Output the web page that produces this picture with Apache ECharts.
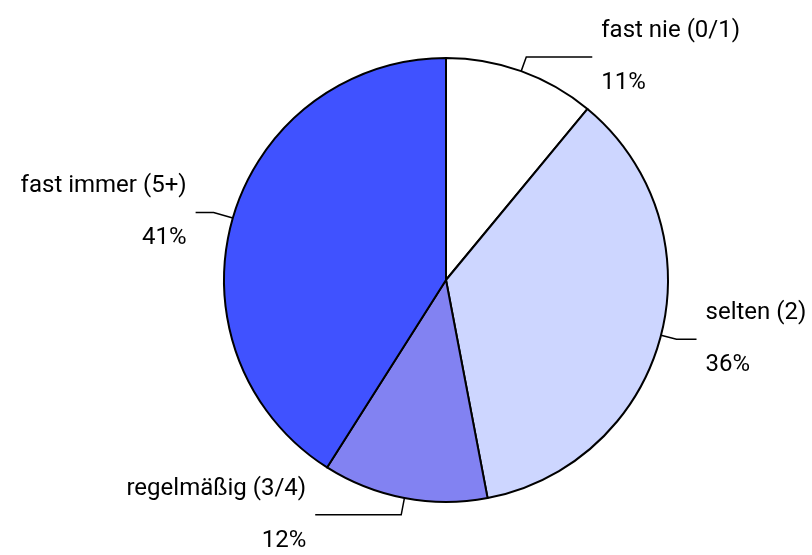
<!DOCTYPE html>
<html>
<head>
<meta charset="utf-8">
<script src="https://cdn.jsdelivr.net/npm/echarts@6/dist/echarts.min.js"></script>
<style>
  html, body { margin: 0; padding: 0; background: #fff; }
  #chart { width: 812px; height: 555px; }
</style>
</head>
<body>
<div id="chart"></div>
<script>
const categories = ['fast nie (0/1)', 'selten (2)', 'regelmäßig (3/4)', 'fast immer (5+)']
const shares = [11, 36, 12, 41]
const sliceColors = ['#ffffff', '#cdd6ff', '#8282f2', '#4052ff']
// label line lengths per slice: [radial part, horizontal part]
const lineLengths = [[15, 66], [16, 20], [17, 86], [20, 18]]

const chart = echarts.init(document.getElementById('chart'))

const pieData = categories.map((name, i) => ({
  name: name,
  value: shares[i],
  itemStyle: { color: sliceColors[i] },
  labelLine: { length: lineLengths[i][0], length2: lineLengths[i][1] }
}))

chart.setOption({
  animation: false,
  series: [
    {
      type: 'pie',
      center: [446, 280],
      radius: 222,
      startAngle: 90,
      clockwise: true,
      avoidLabelOverlap: false,
      itemStyle: {
        borderColor: '#000',
        borderWidth: 2
      },
      label: {
        show: true,
        position: 'outside',
        formatter: '{b}\n\n{d}%',
        fontFamily: 'Roboto',
        fontSize: 24,
        lineHeight: 26,
        color: '#000',
        distanceToLabelLine: 9
      },
      labelLine: {
        show: true,
        smooth: false,
        lineStyle: { color: '#000', width: 1.5 }
      },
      emphasis: { disabled: true },
      data: pieData
    }
  ]
})
</script>
</body>
</html>
